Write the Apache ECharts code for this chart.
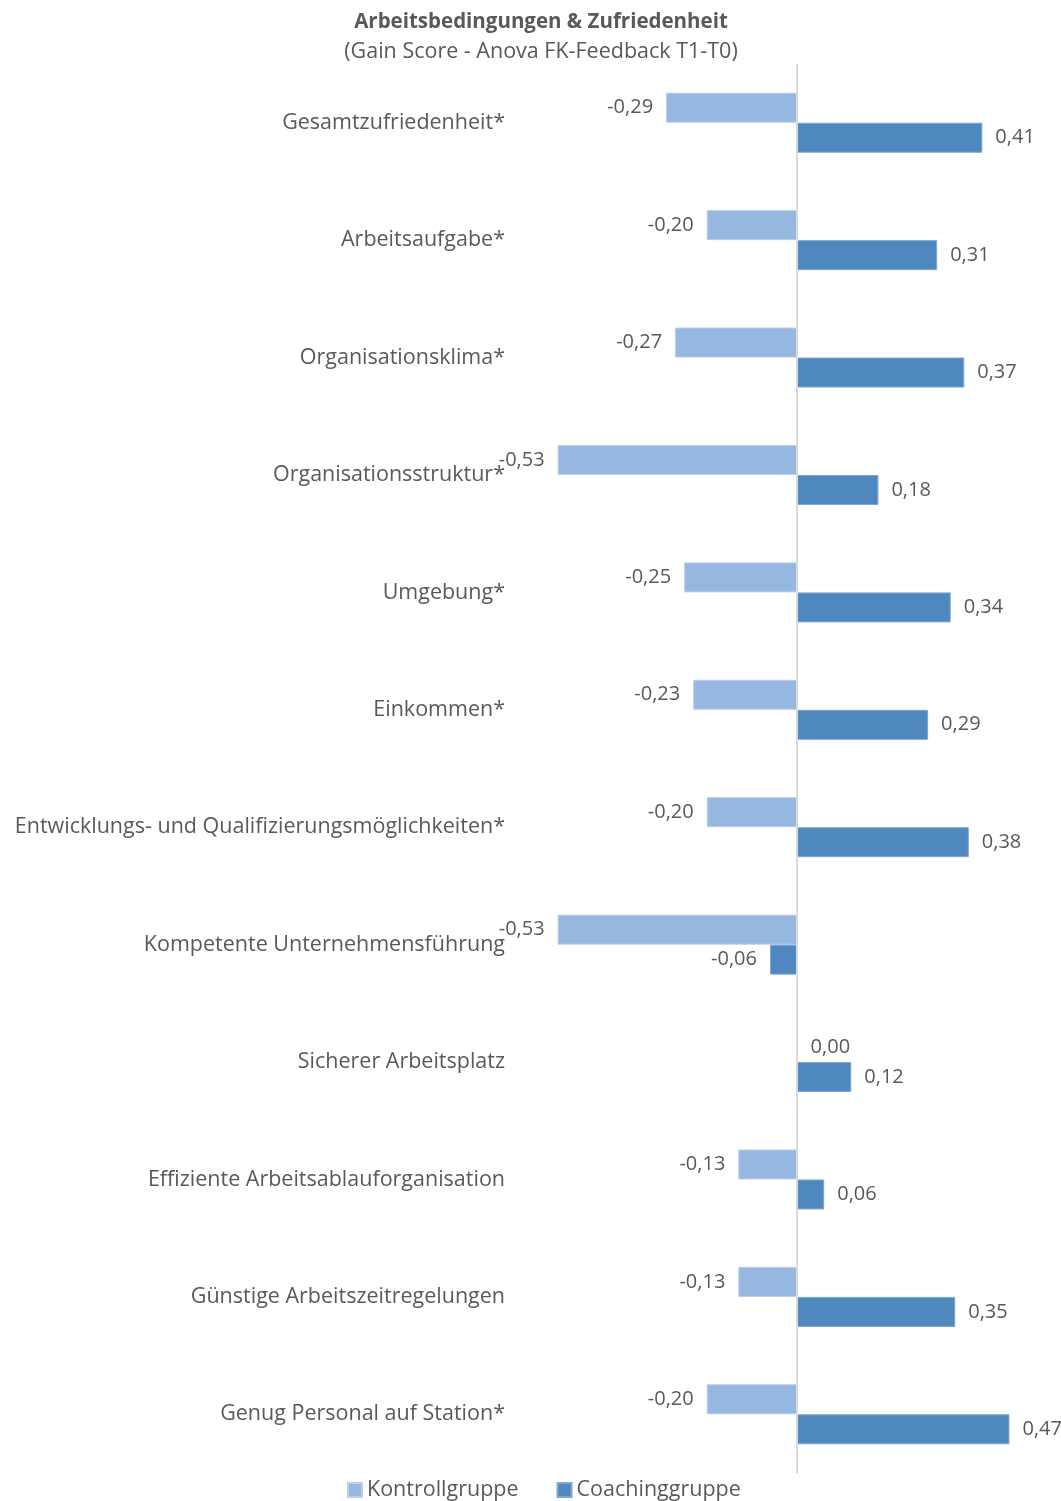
<!DOCTYPE html>
<html>
<head>
<meta charset="utf-8">
<script src="https://cdn.jsdelivr.net/npm/echarts@6/dist/echarts.min.js"></script>
<style>
  html, body { margin: 0; padding: 0; background: #fff; }
  #chart { width: 1061px; height: 1501px; }
</style>
</head>
<body>
<div id="chart"></div>
<script>
// Kategorien (von oben nach unten)
var categories = [
    'Gesamtzufriedenheit*',
    'Arbeitsaufgabe*',
    'Organisationsklima*',
    'Organisationsstruktur*',
    'Umgebung*',
    'Einkommen*',
    'Entwicklungs- und Qualifizierungsmöglichkeiten*',
    'Kompetente Unternehmensführung',
    'Sicherer Arbeitsplatz',
    'Effiziente Arbeitsablauforganisation',
    'Günstige Arbeitszeitregelungen',
    'Genug Personal auf Station*'
];
var kontrollgruppe = [-0.29, -0.20, -0.27, -0.53, -0.25, -0.23, -0.20, -0.53, 0.00, -0.13, -0.13, -0.20];
var coachinggruppe = [0.41, 0.31, 0.37, 0.18, 0.34, 0.29, 0.38, -0.06, 0.12, 0.06, 0.35, 0.47];

var FONT = 'Open Sans';
var GREY = '#595959';

function fmt(v) {
    return v.toFixed(2).replace('.', ',');
}

// Label links bei negativen Werten, rechts sonst
function toItems(arr) {
    return arr.map(function (v) {
        return {
            value: v,
            label: { position: v < 0 ? 'left' : 'right' }
        };
    });
}

var barLabel = {
    show: true,
    distance: 13,
    color: GREY,
    fontFamily: FONT,
    fontSize: 20,
    formatter: function (p) { return fmt(p.value); }
};

var option = {
    animation: false,
    textStyle: { fontFamily: FONT, color: GREY },
    title: {
        text: 'Arbeitsbedingungen & Zufriedenheit',
        subtext: '(Gain Score - Anova FK-Feedback T1-T0)',
        left: 536,
        textAlign: 'center',
        top: 7,
        itemGap: 8,
        textStyle: { fontFamily: FONT, fontSize: 20.5, fontWeight: 'bold', color: GREY },
        subtextStyle: { fontFamily: FONT, fontSize: 21.5, color: GREY }
    },
    legend: {
        data: ['Kontrollgruppe', 'Coachinggruppe'],
        left: 342,
        top: 1474,
        icon: 'rect',
        itemWidth: 14,
        itemHeight: 14,
        itemGap: 38,
        textStyle: { fontFamily: FONT, fontSize: 21.5, color: GREY }
    },
    grid: {
        left: 526,
        right: 38,
        top: 64,
        bottom: 28,
        containLabel: false
    },
    xAxis: {
        type: 'value',
        min: -0.6,
        max: 0.5,
        show: false
    },
    yAxis: {
        type: 'category',
        data: categories,
        inverse: true,
        axisLine: { show: false, onZero: false },
        axisTick: { show: false },
        axisLabel: {
            margin: 21,
            fontFamily: FONT,
            fontSize: 21.5,
            color: GREY
        }
    },
    series: [{
        name: 'Kontrollgruppe',
        type: 'bar',
        barWidth: 30,
        barGap: '0%',
        itemStyle: { color: '#96B8E0', borderColor: '#B9CFEA', borderWidth: 1 },
        label: barLabel,
        data: toItems(kontrollgruppe),
        markLine: {
            silent: true,
            symbol: 'none',
            label: { show: false },
            lineStyle: { color: '#D9D9D9', type: 'solid', width: 2 },
            data: [{ xAxis: 0 }]
        }
    }, {
        name: 'Coachinggruppe',
        type: 'bar',
        barWidth: 30,
        barGap: '0%',
        itemStyle: { color: '#4F88BE', borderColor: '#7FA7D1', borderWidth: 1 },
        label: barLabel,
        data: toItems(coachinggruppe)
    }]
};

var myChart = echarts.init(document.getElementById('chart'));
myChart.setOption(option);
</script>
</body>
</html>
